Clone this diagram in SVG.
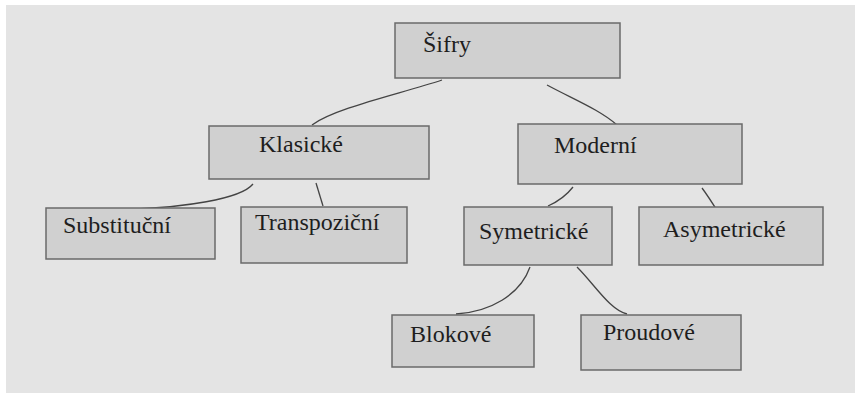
<svg xmlns="http://www.w3.org/2000/svg" width="855" height="394" viewBox="0 0 855 394">
  <style>
    .box { fill: #d0d0d0; stroke: #6a6a6a; stroke-width: 1.5; }
    .lbl { font-family: 'Liberation Serif', 'Times New Roman', serif; font-size: 24px; fill: #1e1e1e; }
    .edge { fill: none; stroke: #444; stroke-width: 1.3; }
  </style>
  <!-- white frame with the grey canvas inside -->
  <rect x="0" y="0" width="855" height="394" fill="#ffffff"/>
  <rect x="6" y="5" width="849" height="388" fill="#e4e4e4"/>

  <g id="connectors">
    <path class="edge" d="M442,80 C400,94 335,108 312,125"/>
    <path class="edge" d="M547,85 C575,100 600,110 617,125"/>
    <path class="edge" d="M253,184 C240,200 180,207 137,209"/>
    <path class="edge" d="M316,183 L323,206"/>
    <path class="edge" d="M573,187 C566,196 557,202 548,206"/>
    <path class="edge" d="M702,188 C708,196 713,204 718,212"/>
    <path class="edge" d="M530,267 C520,295 490,312 456,314"/>
    <path class="edge" d="M577,267 C595,285 610,310 627,314"/>
  </g>

  <g id="sifry">
    <rect class="box" x="395" y="23" width="225" height="55"/>
    <text class="lbl" x="423" y="52">Šifry</text>
  </g>
  <g id="klasicke">
    <rect class="box" x="209" y="126" width="220" height="53"/>
    <text class="lbl" x="259" y="152">Klasické</text>
  </g>
  <g id="moderni">
    <rect class="box" x="518" y="124" width="224" height="60"/>
    <text class="lbl" x="554" y="153">Moderní</text>
  </g>
  <g id="substitucni">
    <rect class="box" x="46" y="208" width="169" height="51"/>
    <text class="lbl" x="63" y="233">Substituční</text>
  </g>
  <g id="transpozicni">
    <rect class="box" x="241" y="207" width="166" height="56"/>
    <text class="lbl" x="255" y="230">Transpoziční</text>
  </g>
  <g id="symetricke">
    <rect class="box" x="464" y="207" width="148" height="58"/>
    <text class="lbl" x="479" y="239">Symetrické</text>
  </g>
  <g id="asymetricke">
    <rect class="box" x="639" y="207" width="184" height="58"/>
    <text class="lbl" x="663" y="237">Asymetrické</text>
  </g>
  <g id="blokove">
    <rect class="box" x="392" y="315" width="142" height="52"/>
    <text class="lbl" x="410" y="342">Blokové</text>
  </g>
  <g id="proudove">
    <rect class="box" x="581" y="315" width="160" height="55"/>
    <text class="lbl" x="603" y="340">Proudové</text>
  </g>
</svg>
